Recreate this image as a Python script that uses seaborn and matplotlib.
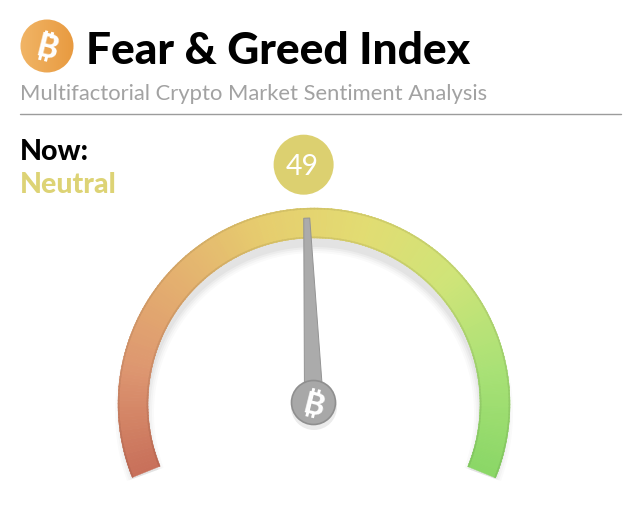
import numpy as np
import seaborn as sns
import matplotlib.pyplot as plt
from matplotlib.patches import Circle

# Chart values
title = 'Fear & Greed Index'
subtitle = 'Multifactorial Crypto Market Sentiment Analysis'
now_label = 'Now:'
state_label = 'Neutral'
index_value = 49
scale_min = 0
scale_max = 100
gauge_stops = ['#c8705a', '#dd9670', '#e4b06f', '#e6cd6e', '#e2dc72', '#cfe478', '#a9e176', '#8bd767']

sns.set_theme(style='white')
plt.rcParams['font.family'] = ['Lato', 'DejaVu Sans']

CX, CY = 314, 405
R_OUT, R_IN = 196, 166
START, END = 202, -22


def arc_band(r1, r2, a1, a2, n=12):
    a = np.radians(np.linspace(a1, a2, n))
    xs = np.r_[CX + r1 * np.cos(a), CX + r2 * np.cos(a[::-1])]
    ys = np.r_[CY - r1 * np.sin(a), CY - r2 * np.sin(a[::-1])]
    return xs, ys


def value_angle(v):
    return START + (END - START) * (v - scale_min) / (scale_max - scale_min)


def btc_mark(ax, x, y, size, color, z=3):
    # B glyph leaning right, with the little ticks top and bottom
    s = np.radians(14)
    up = np.array([np.sin(s), -np.cos(s)])
    right = np.array([np.cos(s), np.sin(s)])
    for off in (-0.1, 0.11):
        for sign in (-1, 1):
            p0 = np.array([x, y]) + size * off * right + sign * size * 0.3 * up
            p1 = np.array([x, y]) + size * off * right + sign * size * 0.52 * up
            ax.plot([p0[0], p1[0]], [p0[1], p1[1]], color=color, lw=size * 0.075,
                    solid_capstyle='butt', zorder=z)
    ax.text(x + size * 0.03, y + size * 0.06, 'B', color=color, fontsize=size * 0.8, fontweight='black',
            rotation=-14, rotation_mode='anchor', ha='center', va='center', zorder=z)


fig = plt.figure(figsize=(6.4, 5.1), dpi=100)
ax = fig.add_axes([0, 0, 1, 1])
ax.axis('off')

# logo, light on the left and darker on the right
logo_cols = sns.blend_palette(['#f1b566', '#e89a40'], n_colors=64)
im = ax.imshow([logo_cols], extent=(20, 74, 74, 20), aspect='auto', zorder=2)
im.set_clip_path(Circle((47, 47), 26.5, transform=ax.transData))
btc_mark(ax, 46, 47, 29, 'white')

ax.text(86, 51, title, fontsize=31.9, fontweight='black', color='black', va='center', ha='left')
ax.text(20, 94, subtitle, fontsize=15.85, color='#a2a2a2', va='center', ha='left')
ax.plot([20, 621], [115, 115], color='#9c9c9c', lw=1)
ax.text(20, 152, now_label, fontsize=20.5, fontweight='black', color='black', va='center', ha='left')
ax.text(20, 185, state_label, fontsize=20.5, fontweight='black', color='#ddd375', va='center', ha='left')

# soft shadow under the band
for grow, alpha in zip([7, 5, 3, 1], [0.02, 0.025, 0.03, 0.035]):
    xs, ys = arc_band(R_OUT - 4 + grow, R_IN + 1 - grow, START - 2, END + 2, 80)
    ax.fill(xs, ys + 9, color='black', alpha=alpha, lw=0, zorder=1)

# gauge band, one thin slice per step of the palette
n_steps = 224
colors = sns.blend_palette(gauge_stops, n_colors=n_steps)
edges = np.linspace(START, END, n_steps + 1)
for i, col in enumerate(colors):
    xs, ys = arc_band(R_OUT, R_IN, edges[i], edges[i + 1] - 0.15, 3)
    ax.fill(xs, ys, color=col, lw=0.3, ec=col, zorder=3)
    # darker rims
    dark = tuple(c * 0.92 for c in col)
    for r1, r2 in ((R_OUT, R_OUT - 1.2), (R_IN + 1.2, R_IN)):
        xs, ys = arc_band(r1, r2, edges[i], edges[i + 1] - 0.15, 3)
        ax.fill(xs, ys, color=dark, lw=0.2, ec=dark, zorder=4)

# needle follows the value
needle = np.radians(value_angle(index_value))
ux, uy = np.cos(needle), -np.sin(needle)
vx, vy = -uy, ux
tip_r, base_r = 186, 20
tip_w, base_w = 3.0, 8.8
needle_x = [CX + base_r * ux - base_w * vx, CX + tip_r * ux - tip_w * vx,
            CX + tip_r * ux + tip_w * vx, CX + base_r * ux + base_w * vx]
needle_y = [CY + base_r * uy - base_w * vy, CY + tip_r * uy - tip_w * vy,
            CY + tip_r * uy + tip_w * vy, CY + base_r * uy + base_w * vy]
ax.fill(needle_x, needle_y, color='#ababab', ec='#949494', lw=0.7, zorder=5)

# hub
ax.add_patch(Circle((CX, CY + 3), 23, color='black', alpha=0.08, lw=0, zorder=5))
ax.add_patch(Circle((CX - 0.5, CY - 1.5), 22, fc='#a8a8a8', ec='#8f8f8f', lw=1.2, zorder=6))
btc_mark(ax, CX - 1, CY - 1, 28, 'white', z=7)

# value bubble sits outside the band on the needle line
bub_x = CX + 240 * ux - 1
bub_y = CY + 240 * uy
ax.add_patch(Circle((bub_x, bub_y + 0.5), 30, color='#dcd070', lw=0, zorder=3))
ax.text(bub_x - 1, bub_y + 2, str(index_value), color='white', fontsize=20.5, fontweight='normal',
        ha='center', va='center', zorder=4)

ax.set_xlim(0, 640)
ax.set_ylim(510, 0)
fig.savefig('out.png', dpi=100)
